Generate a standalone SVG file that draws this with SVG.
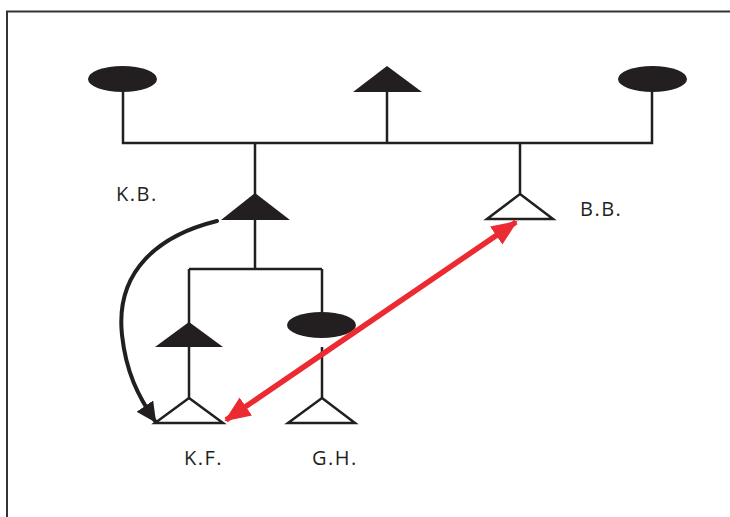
<svg xmlns="http://www.w3.org/2000/svg" width="730" height="517" viewBox="0 0 730 517">
  <style>
    .ln { stroke: #231f20; stroke-width: 2.5; fill: none; }
    .fill { fill: #231f20; }
    .open { fill: #ffffff; stroke: #231f20; stroke-width: 2.5; stroke-linejoin: miter; }
    .lbl { font-family: "Open Sans", "Noto Sans", sans-serif; font-size: 20px; letter-spacing: 1.5px; fill: #231f20; }
  </style>
  <defs>
    <marker id="headBlack" viewBox="0 0 20 20" refX="18" refY="10" markerWidth="20" markerHeight="20" markerUnits="userSpaceOnUse" orient="auto">
      <path d="M0,0 L20,10 L0,20 Z" fill="#231f20"/>
    </marker>
    <marker id="headRed" viewBox="0 0 26 22" refX="24" refY="11" markerWidth="26" markerHeight="22" markerUnits="userSpaceOnUse" orient="auto-start-reverse">
      <path d="M0,0 L26,11 L0,22 Z" fill="#ec2a31"/>
    </marker>
  </defs>
  <rect width="730" height="517" fill="#ffffff"/>
  <!-- page frame -->
  <rect x="7" y="11.5" width="800" height="600" fill="none" stroke="#333333" stroke-width="2"/>

  <!-- pedigree lines -->
  <g id="lines">
    <path class="ln" d="M123,90 V143 H652 V90"/>
    <path class="ln" d="M387,90 V143"/>
    <path class="ln" d="M255,143 V269"/>
    <path class="ln" d="M189,269 H322"/>
    <path class="ln" d="M189,269 V398"/>
    <path class="ln" d="M322,269 V312"/>
    <path class="ln" d="M322,347 V398"/>
    <path class="ln" d="M520,143 V194"/>
  </g>

  <!-- generation I -->
  <g id="n-top-left"><ellipse class="fill" cx="122.5" cy="79" rx="34.5" ry="13"/></g>
  <g id="n-top-mid"><polygon class="fill" points="387,66 422,92 353,92"/></g>
  <g id="n-top-right"><ellipse class="fill" cx="652.5" cy="79" rx="34.5" ry="13"/></g>

  <!-- generation II -->
  <g id="n-kb">
    <polygon class="fill" points="255,193 290,220 221,220"/>
    <text class="lbl" x="116" y="201">K.B.</text>
  </g>
  <g id="n-bb">
    <polygon class="open" points="520,194 553,219 487,219"/>
    <text class="lbl" x="580" y="216">B.B.</text>
  </g>

  <!-- generation III -->
  <g id="n-mid-left"><polygon class="fill" points="189,322 223,347 155,347"/></g>
  <g id="n-mid-right"><ellipse class="fill" cx="321.5" cy="325" rx="34.5" ry="13"/></g>

  <!-- generation IV -->
  <g id="n-kf">
    <polygon class="open" points="189,398 223,423 155,423"/>
    <text class="lbl" x="184" y="465">K.F.</text>
  </g>
  <g id="n-gh">
    <polygon class="open" points="322,398 355,423 288,423"/>
    <text class="lbl" x="312" y="465">G.H.</text>
  </g>

  <!-- connectors -->
  <g id="connectors">
    <path d="M217,221 C160,235 115,270 122,335 C126,372 138,396 155,421" fill="none" stroke="#231f20" stroke-width="4" stroke-linecap="round" marker-end="url(#headBlack)"/>
    <path d="M226,420 L516,222" fill="none" stroke="#ec2a31" stroke-width="5.5" marker-start="url(#headRed)" marker-end="url(#headRed)"/>
  </g>
</svg>
